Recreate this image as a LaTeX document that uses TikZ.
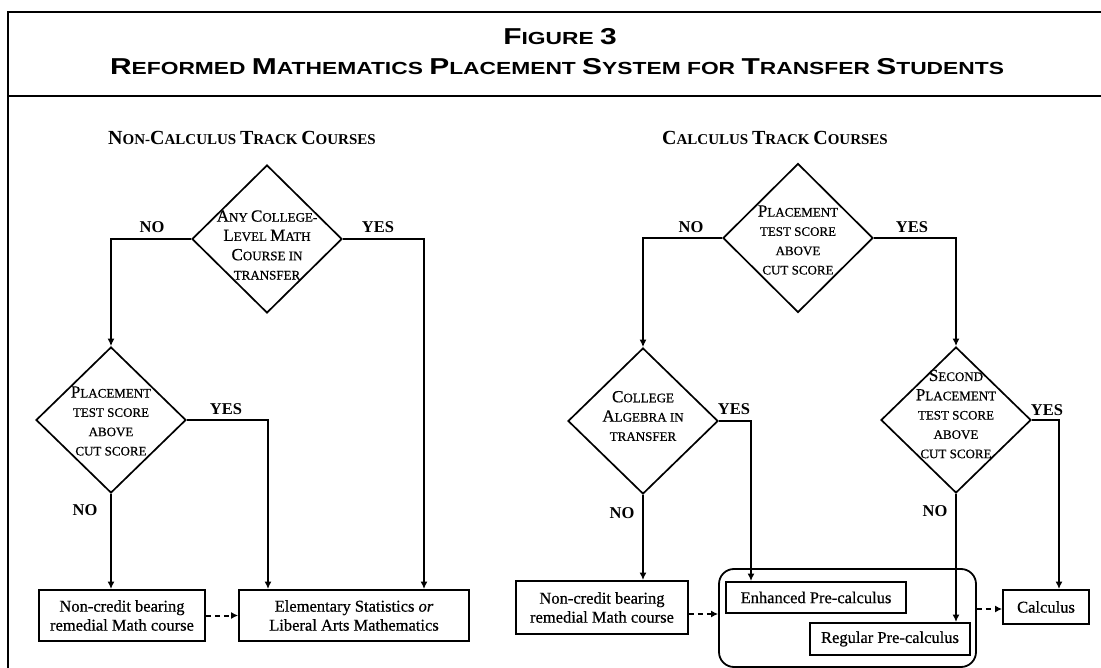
\documentclass[tikz,border=0pt]{standalone}
\usepackage{fontspec}
\setmainfont{Liberation Serif}
\newfontfamily\hvy{Liberation Serif}[FakeBold=0.6]
\newfontfamily\titlefont{Liberation Sans}
\usetikzlibrary{shapes.geometric,arrows.meta,calc}
\newcommand\dsc[2]{{\fontsize{17}{19.3}\selectfont #1}#2}
\newcommand\hsc[2]{{\fontsize{20}{20}\selectfont #1}#2}
\newcommand\tsc[2]{{\fontsize{23}{23}\selectfont #1}#2}
\newsavebox\tboxa
\newsavebox\tboxb
\newlength\tlw
\begin{document}
\sbox\tboxa{\titlefont\bfseries\fontsize{17.5}{18}\selectfont \tsc{R}{EFORMED} \tsc{M}{ATHEMATICS} \tsc{P}{LACEMENT} \tsc{S}{YSTEM} FOR \tsc{T}{RANSFER} \tsc{S}{TUDENTS}}%
\sbox\tboxb{\titlefont\bfseries\fontsize{17.5}{18}\selectfont \tsc{F}{IGURE} {\fontsize{23}{23}\selectfont 3}}%
\setlength\tlw{\wd\tboxa}%
\pgfmathsetmacro\tsx{894/\tlw}%
\begin{tikzpicture}[x=1pt,y=-1pt,
  yesline/.style={line width=1.8pt},
  noline/.style={line width=2.5pt},
  arr/.style={-{Latex[length=7.5pt,width=7pt]}},
  dasharr/.style={line width=2pt,dash pattern=on 5pt off 4pt,-{Latex[length=7pt,width=7pt]}},
  dia/.style={draw,diamond,line width=1.7pt,minimum width=150pt,minimum height=148pt,inner sep=0pt},
  dtext/.style={align=center,font=\hvy\fontsize{13}{19.3}\selectfont,inner sep=0pt},
  lab/.style={font=\bfseries\fontsize{16.5}{16}\selectfont,inner sep=0pt},
  box/.style={draw,line width=1.8pt,align=center,inner sep=0pt,font=\hvy\fontsize{16.5}{19}\selectfont},
  hdr/.style={font=\bfseries\fontsize{15}{15}\selectfont,inner sep=0pt},
  ttl/.style={inner sep=0pt}]
\useasboundingbox (0,0) rectangle (1101,668);
\fill[white] (0,0) rectangle (1101,668);
% frame
\begin{scope}
\clip (0,0) rectangle (1101,668);
\draw[line width=2.4pt,black] (1120,12) -- (8,12) -- (8,700);
\draw[line width=2.4pt,black] (8,96) -- (1120,96);
\end{scope}
% title
\node[ttl] (t1) at (560,37) {\scalebox{\tsx}[1]{\usebox\tboxb}};
\node[ttl] (t2) at (557,67) {\scalebox{\tsx}[1]{\usebox\tboxa}};
% headers
\node[hdr] (h1) at (242,138) {\hsc{N}{ON}-\hsc{C}{ALCULUS} \hsc{T}{RACK} \hsc{C}{OURSES}};
\node[hdr] (h2) at (775,138) {\hsc{C}{ALCULUS} \hsc{T}{RACK} \hsc{C}{OURSES}};
% diamonds
\node[dia] (d1) at (267,239) {};
\node[dtext] (d1t) at (267,245) {\dsc{A}{NY} \dsc{C}{OLLEGE}-\\\dsc{L}{EVEL} \dsc{M}{ATH}\\\dsc{C}{OURSE} IN\\TRANSFER};
\node[dia,minimum height=146pt] (d2) at (111,420) {};
\node[dtext] (d2t) at (111,421) {\dsc{P}{LACEMENT}\\TEST SCORE\\ABOVE\\CUT SCORE};
\node[dia,minimum height=149pt] (d3) at (798,238) {};
\node[dtext] (d3t) at (798,240) {\dsc{P}{LACEMENT}\\TEST SCORE\\ABOVE\\CUT SCORE};
\node[dia,minimum height=146pt] (d4) at (643,421) {};
\node[dtext] (d4t) at (643,416) {\dsc{C}{OLLEGE}\\\dsc{A}{LGEBRA} IN\\TRANSFER};
\node[dia,minimum height=146pt] (d5) at (956,420) {};
\node[dtext] (d5t) at (956,414) {\dsc{S}{ECOND}\\\dsc{P}{LACEMENT}\\TEST SCORE\\ABOVE\\CUT SCORE};
% boxes left
\node[box,minimum width=166pt,minimum height=51pt] (nc1) at (122,615.5) {Non-credit bearing\\remedial Math course};
\node[box,minimum width=230pt,minimum height=51pt] (es) at (354,615.5) {Elementary Statistics \emph{or}\\Liberal Arts Mathematics};
% boxes right
\node[box,minimum width=172pt,minimum height=53pt] (nc2) at (602,607.5) {Non-credit bearing\\remedial Math course};
\node[draw,line width=1.8pt,rounded corners=15pt,minimum width=257pt,minimum height=98pt,inner sep=0pt] (grp) at (847.5,618) {};
\node[box,minimum width=180pt,minimum height=31pt] (enh) at (816,597.5) {Enhanced Pre-calculus};
\node[box,minimum width=160pt,minimum height=32pt] (reg) at (890,639) {Regular Pre-calculus};
\node[box,minimum width=86pt,minimum height=34pt] (calc) at (1046,607) {Calculus};
% labels
\node[lab] (l1) at (152,227) {NO};
\node[lab] (l2) at (378,227) {YES};
\node[lab] (l3) at (226,409) {YES};
\node[lab] (l4) at (85,510) {NO};
\node[lab] (l5) at (691,227) {NO};
\node[lab] (l6) at (912,227) {YES};
\node[lab] (l7) at (734,409) {YES};
\node[lab] (l8) at (622,513) {NO};
\node[lab] (l9) at (1047,410) {YES};
\node[lab] (l10) at (935,511) {NO};
% connectors left
\draw[noline,arr] (d1.west) -| (d2.north);
\draw[yesline,arr] (d1.east) -| ([xshift=70pt]es.north);
\draw[yesline,arr] (d2.east) -| ([xshift=-86pt]es.north);
\draw[noline,arr] (d2.south) -- (d2.south |- nc1.north);
\draw[dasharr] (nc1.east) -- (es.west);
% connectors right
\draw[noline,arr] (d3.west) -| (d4.north);
\draw[yesline,arr] (d3.east) -| (d5.north);
\draw[yesline,arr] (d4.east) -| ([xshift=-65pt]enh.north);
\draw[noline,arr] (d4.south) -- (d4.south |- nc2.north);
\draw[noline,arr] (d5.south) -- (d5.south |- reg.north);
\draw[yesline,arr] (d5.east) -| ([xshift=13pt]calc.north);
\draw[dasharr] ([yshift=-6.5pt]nc2.east) -- ([yshift=4pt]grp.west);
\draw[dasharr] ([yshift=9pt]grp.east) -- ([yshift=-2pt]calc.west);
\end{tikzpicture}
\end{document}
